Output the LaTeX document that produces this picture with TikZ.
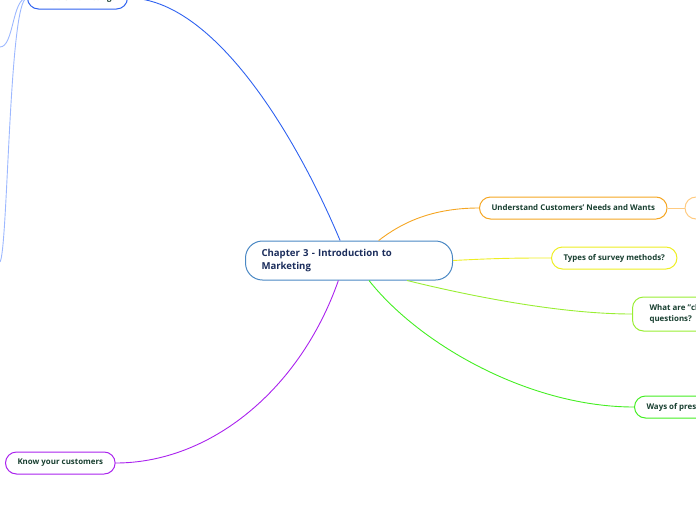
\documentclass[tikz,border=0pt]{standalone}
\usepackage{fontspec}
\setmainfont{Open Sans}
\usetikzlibrary{positioning}
\definecolor{chapblue}{HTML}{4A88C4}
\definecolor{chapink}{HTML}{1B2D5C}
\definecolor{leafink}{HTML}{183F30}
\definecolor{mblue}{HTML}{2F62F0}
\definecolor{lblue}{HTML}{9DB8FF}
\definecolor{morange}{HTML}{F5A623}
\definecolor{lorange}{HTML}{FFCB80}
\definecolor{myellow}{HTML}{EEEE22}
\definecolor{mlime}{HTML}{99EE33}
\definecolor{mgreen}{HTML}{44EE22}
\definecolor{mpurple}{HTML}{AA22EE}

\begin{document}
\begin{tikzpicture}[
    x=1pt, y=-1pt,
    font=\bfseries\fontsize{7.9}{11}\selectfont,
    topic/.style={draw, fill=white, rounded corners=11pt, line width=1pt, minimum height=22pt, inner xsep=12pt, inner ysep=3pt, anchor=west, text=leafink, align=left},
    chapter/.style={draw=chapblue, fill=white, rounded corners=17pt, line width=1pt, minimum height=39pt, text width=175pt, inner xsep=16pt, anchor=west, text=chapink, align=left, font=\bfseries\fontsize{9.6}{12.5}\selectfont},
    link/.style={line width=0.9pt}
]
    \useasboundingbox (0,0) rectangle (696,520);
    \clip (0,0) rectangle (696,520);

    % Central topic
    \node[chapter] (chap) at (245,260.5) {Chapter 3 - Introduction to\\Marketing};

    % Main branches
    \node[topic, draw=mblue] (what) at (27,-2) {What is Marketing?};
    \node[topic, draw=morange] (under) at (479,208) {Understand Customers' Needs and Wants};
    \node[topic, draw=lorange, minimum width=110pt, right=17pt of under] (under2) {};
    \node[topic, draw=myellow] (types) at (551,258) {Types of survey methods?};
    \node[topic, draw=mlime, minimum height=34pt, inner xsep=17pt] (quest) at (632,314) {What are "closed-ended"\\questions?};
    \node[topic, draw=mgreen] (ways) at (634,407) {Ways of presenting data?};
    \node[topic, draw=mpurple] (know) at (5,463) {Know your customers};

    % Sub-branch ends (off the page)
    \coordinate (sub1) at (0,47);
    \coordinate (sub2) at (0,262);

    % Connections
    \draw[link, mblue] (chap.114) .. controls (298,140) and (215,-2) .. (what.east);
    \draw[link, morange] (chap.34) .. controls (400,224) and (430,208) .. (under.west);
    \draw[link, myellow] (chap.east) .. controls (500,258) and (520,258) .. (types.west);
    \draw[link, mlime] (chap.-19) .. controls (470,296) and (560,314) .. (quest.west);
    \draw[link, mgreen] (chap.-45) .. controls (420,345) and (530,407) .. (ways.west);
    \draw[link, mpurple] (chap.-118) .. controls (300,390) and (210,463) .. (know.east);
    \draw[link, lorange] (under.east) -- (under2.west);
    \draw[link, lblue] (what.west) .. controls (12,-2) and (14,47) .. (sub1);
    \draw[link, lblue] (what.west) .. controls (9,-2) and (8,250) .. (sub2);
\end{tikzpicture}
\end{document}
